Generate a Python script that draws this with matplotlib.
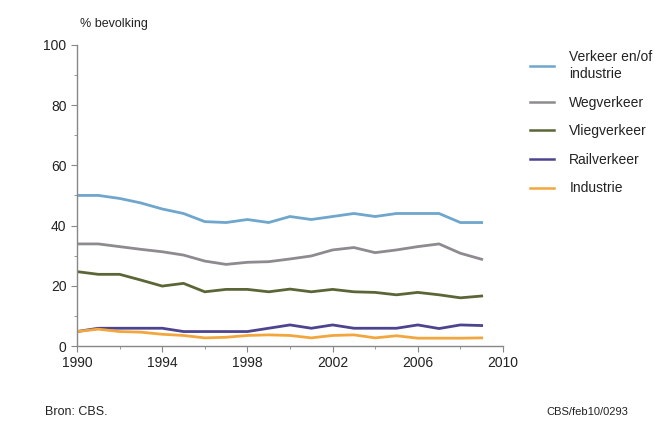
import matplotlib
matplotlib.use('Agg')
import matplotlib.pyplot as plt

plt.rcParams['font.family'] = ['Liberation Sans', 'DejaVu Sans']

years = list(range(1990, 2010))

# % bevolking per bron
verkeer_industrie = [50, 50, 49, 47.5, 45.5, 44, 41.3, 41, 42, 41, 43, 42, 43, 44, 43, 44, 44, 44, 41, 41]
wegverkeer = [33.9, 33.9, 33, 32.1, 31.3, 30.2, 28.2, 27.1, 27.8, 28, 28.9, 29.9, 31.9, 32.7, 31, 31.9, 33, 33.9, 30.8, 28.8]
vliegverkeer = [24.7, 23.8, 23.8, 21.9, 19.9, 20.8, 18, 18.8, 18.8, 18, 18.9, 18, 18.8, 18, 17.8, 17, 17.8, 17, 16, 16.6]
railverkeer = [4.8, 5.9, 5.9, 5.9, 5.9, 4.8, 4.8, 4.8, 4.8, 5.9, 7, 5.9, 7, 5.9, 5.9, 5.9, 7, 5.8, 7, 6.8]
industrie = [4.8, 5.6, 4.8, 4.6, 3.9, 3.5, 2.7, 2.9, 3.5, 3.7, 3.5, 2.7, 3.5, 3.7, 2.7, 3.4, 2.6, 2.6, 2.6, 2.7]

labels = ['Verkeer en/of\nindustrie', 'Wegverkeer', 'Vliegverkeer', 'Railverkeer', 'Industrie']
colors = ['#6fa6cc', '#8e8a90', '#5b6636', '#4d4490', '#f2a73e']

fig = plt.figure(figsize=(6.66, 4.23), dpi=100)
ax = fig.add_axes([0.1156, 0.182, 0.6396, 0.712])

for series, lab, col in zip([verkeer_industrie, wegverkeer, vliegverkeer, railverkeer, industrie], labels, colors):
    ax.plot(years, series, color=col, lw=2.0, label=lab)

ax.set_xlim(1990, 2010)
ax.set_ylim(0, 100)
ax.set_xticks(range(1990, 2011, 4))
ax.set_xticks(range(1990, 2011, 2), minor=True)
ax.set_yticks(range(0, 101, 20))
ax.set_yticks(range(0, 101, 10), minor=True)
for s in ['top', 'right']:
    ax.spines[s].set_visible(False)
for s in ['left', 'bottom']:
    ax.spines[s].set_color('#888888')
    ax.spines[s].set_linewidth(1.0)
ax.tick_params(which='both', colors='#888888', labelcolor='#222222', labelsize=10)
ax.tick_params(which='major', length=4)
ax.tick_params(which='minor', length=2)

fig.text(0.12, 0.935, '% bevolking', fontsize=9, color='#222222')

leg = ax.legend(loc='upper left', bbox_to_anchor=(1.034, 1.025), frameon=False,
                fontsize=10, handlelength=1.73, labelspacing=1.05, handletextpad=1.1)
for t in leg.get_texts():
    t.set_color('#222222')
    t.set_linespacing(1.3)
for h in leg.get_lines():
    h.set_linewidth(1.8)

fig.text(0.068, 0.018, 'Bron: CBS.', fontsize=9, color='#222222')
fig.text(0.943, 0.018, 'CBS/feb10/0293', fontsize=8, color='#222222', ha='right')

fig.savefig('out.png', dpi=100)
